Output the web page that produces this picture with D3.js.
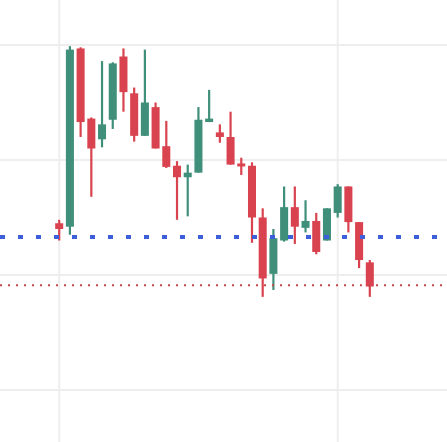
<!DOCTYPE html>
<html><head><meta charset="utf-8">
<script src="https://cdn.jsdelivr.net/npm/d3@7"></script>
<style>body{margin:0;background:#fff}</style></head>
<body><svg width="447" height="442"></svg>
<script>
const days = d3.range(1, 31);
const open  = [84.5,84.2,99.7,93.6,91.8,93.5,99.0,95.8,92.1,94.6,91.2,89.5,88.5,88.9,93.3,92.4,92.0,89.7,89.5,85.0,80.1,83.0,85.9,84.1,84.7,83.0,85.4,87.7,84.6,81.1];
const high  = [84.8,99.9,99.8,93.7,98.6,98.5,99.7,96.3,99.6,95.0,93.4,89.9,89.6,94.6,96.1,93.1,94.2,90.2,89.8,85.8,84.0,87.7,87.7,86.5,85.4,85.8,87.9,87.7,84.6,81.3];
const low   = [83.0,83.5,92.0,86.8,91.1,92.7,94.2,91.6,92.1,91.0,89.3,84.8,85.1,88.9,93.3,91.5,89.6,88.7,82.8,78.1,78.7,82.9,82.7,83.7,81.8,83.0,85.0,83.7,80.6,78.1];
const close = [84.0,99.6,93.3,91.0,93.1,98.4,95.9,92.1,95.0,91.0,89.4,88.5,88.9,93.5,93.6,92.0,89.6,89.5,85.0,79.7,83.2,85.9,84.2,84.7,82.0,85.8,87.7,84.6,81.3,79.0];
const levels = [83.3, 79.1];
const grid = [100, 90, 80, 70];

const svg = d3.select('svg');
const x = d3.scaleBand().domain(days).range([52.5, 376.5]).padding(0.25);
const y = d3.scaleLinear().domain([70, 100]).range([390, 45]);

svg.selectAll('line.h').data(grid).enter().append('line')
  .attr('x1', 0).attr('x2', 447).attr('y1', d => y(d)).attr('y2', d => y(d))
  .style('stroke', '#eeeeee').style('stroke-width', 2);
svg.selectAll('line.v').data([1, 27]).enter().append('line')
  .attr('x1', d => x(d) + x.bandwidth()/2).attr('x2', d => x(d) + x.bandwidth()/2)
  .attr('y1', 0).attr('y2', 442)
  .style('stroke', '#eeeeee').style('stroke-width', 2);

const col = i => close[i] >= open[i] ? '#3f8f7b' : '#d9434f';
const g = svg.append('g');
g.selectAll('line.wick').data(days).enter().append('line')
  .attr('x1', d => x(d) + x.bandwidth()/2).attr('x2', d => x(d) + x.bandwidth()/2)
  .attr('y1', (d, i) => y(high[i])).attr('y2', (d, i) => y(low[i]))
  .style('stroke', (d, i) => col(i)).style('stroke-width', 2.2);
g.selectAll('rect').data(days).enter().append('rect')
  .attr('x', d => x(d)).attr('width', x.bandwidth())
  .attr('y', (d, i) => y(Math.max(open[i], close[i])))
  .attr('height', (d, i) => Math.max(3, Math.abs(y(open[i]) - y(close[i]))))
  .style('fill', (d, i) => col(i));

svg.append('line').attr('x1', 0).attr('x2', 447).attr('y1', y(levels[0])).attr('y2', y(levels[0]))
  .style('stroke', '#3d5fdc').style('stroke-width', 4).style('stroke-dasharray', '5,13');
svg.append('line').attr('x1', 0).attr('x2', 447).attr('y1', y(levels[1])).attr('y2', y(levels[1]))
  .style('stroke', '#c8474f').style('stroke-width', 2).style('stroke-dasharray', '2,6');
</script></body></html>
